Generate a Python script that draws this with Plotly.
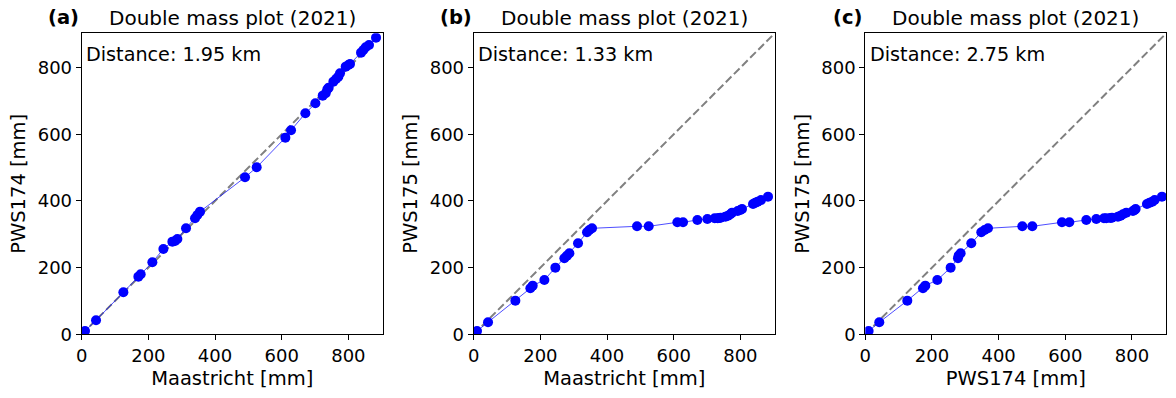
import plotly.graph_objects as go

# Data (cumulative precipitation, mm)
maastricht = [10, 43, 125, 170, 177, 212, 245, 272, 280, 287, 313, 340, 347, 355,
              490, 525, 611, 628, 671, 701, 723, 732, 737, 741, 755, 763, 770, 775,
              792, 800, 805, 838, 845, 852, 862, 883]
pws174 = [10, 42, 126, 173, 180, 216, 256, 278, 280, 286, 318, 348, 358, 368,
          471, 501, 590, 612, 663, 693, 716, 723, 735, 740, 758, 766, 773, 783,
          803, 808, 811, 845, 853, 861, 868, 890]
pws175 = [10, 36, 101, 138, 146, 163, 200, 228, 236, 243, 273, 306, 313, 318,
          324, 324, 336, 336, 343, 346, 348, 348, 349, 350, 353, 356, 360, 365,
          370, 373, 376, 391, 395, 398, 403, 413]

panel_labels = ["(a)", "(b)", "(c)"]
titles = ["Double mass plot (2021)"] * 3
distances = ["Distance: 1.95 km", "Distance: 1.33 km", "Distance: 2.75 km"]
x_titles = ["Maastricht [mm]", "Maastricht [mm]", "PWS174 [mm]"]
y_titles = ["PWS174 [mm]", "PWS175 [mm]", "PWS175 [mm]"]
tick_vals = [0, 200, 400, 600, 800]
axis_max = 903

panels = [(maastricht, pws174), (maastricht, pws175), (pws174, pws175)]

W, H = 1176, 398
x_domains = [(81.7, 382.7), (473.7, 774.7), (865.3, 1166.3)]
y_dom = [(H - 334.3) / H, (H - 33.3) / H]

FONT = "DejaVu Sans"
fig = go.Figure()
layout = dict(
    width=W, height=H,
    margin=dict(l=0, r=0, t=0, b=0),
    paper_bgcolor="white", plot_bgcolor="white",
    showlegend=False,
    font=dict(family=FONT, color="black"),
)
annotations = []
for i, ((xs, ys), (x0, x1)) in enumerate(zip(panels, x_domains)):
    n = "" if i == 0 else str(i + 1)
    xa, ya = "x" + n, "y" + n
    # 1:1 reference line
    fig.add_trace(go.Scatter(x=[0, axis_max], y=[0, axis_max], mode="lines",
                             line=dict(color="gray", width=2, dash="8px,3.5px"),
                             xaxis=xa, yaxis=ya, hoverinfo="skip"))
    fig.add_trace(go.Scatter(x=xs, y=ys, mode="lines+markers",
                             line=dict(color="blue", width=0.7),
                             marker=dict(color="blue", size=10),
                             xaxis=xa, yaxis=ya))
    common = dict(range=[0, axis_max], tickvals=tick_vals, ticks="outside",
                  ticklen=5, tickwidth=1.1, tickcolor="black",
                  showline=True, linecolor="black", linewidth=1.1, mirror=True,
                  showgrid=False, zeroline=False, automargin=False,
                  tickfont=dict(family=FONT, size=18, color="black"))
    layout["xaxis" + n] = dict(common, domain=[x0 / W, x1 / W], anchor=ya,
                               title=dict(text=x_titles[i], standoff=6,
                                          font=dict(family=FONT, size=19.5)))
    layout["yaxis" + n] = dict(common, domain=y_dom, anchor=xa,
                               title=dict(text=y_titles[i], standoff=6,
                                          font=dict(family=FONT, size=19.5)))
    # titles
    annotations.append(dict(text="<b>" + panel_labels[i] + "</b>", xref="paper", yref="paper",
                            x=(x0 - 18) / W, y=(H - 18) / H, xanchor="center", yanchor="middle",
                            showarrow=False, font=dict(family=FONT, size=19.5)))
    annotations.append(dict(text=titles[i], xref="paper", yref="paper",
                            x=(x0 + x1) / 2 / W, y=(H - 18) / H, xanchor="center", yanchor="middle",
                            showarrow=False, font=dict(family=FONT, size=20)))
    annotations.append(dict(text=distances[i], xref=xa + " domain", yref=ya + " domain",
                            x=0.008, y=0.93, xanchor="left", yanchor="middle",
                            showarrow=False, font=dict(family=FONT, size=19.2)))
layout["annotations"] = annotations
fig.update_layout(**layout)
fig.write_html("out.html", config={"displayModeBar": False},
               post_script="document.body.style.margin='0';")
